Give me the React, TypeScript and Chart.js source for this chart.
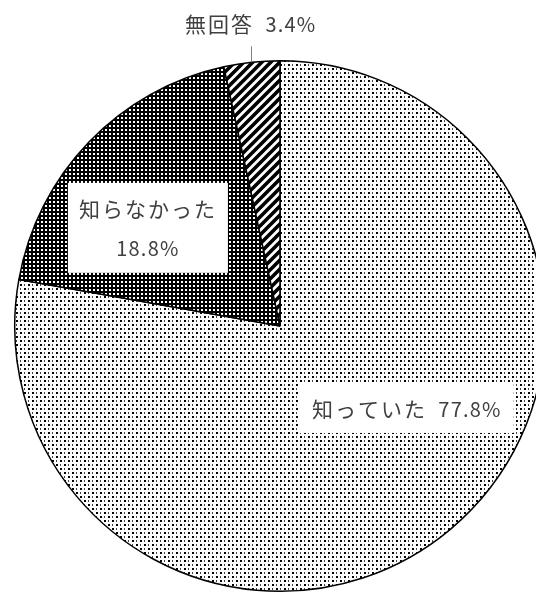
import React, { useEffect, useRef } from "react";
import { Chart, registerables } from "chart.js";

Chart.register(...registerables);

const categories = ["知っていた", "知らなかった", "無回答"];
const values = [77.8, 18.8, 3.4];
const valueLabels = ["77.8%", "18.8%", "3.4%"];

const TEXT_COLOR = "#404040";
const FONT = '"Noto Sans CJK JP", "Noto Sans", sans-serif';
const JP_FONT = `21px ${FONT}`;
const NUM_FONT = `20px ${FONT}`;

function makeTile(w: number, h: number, draw: (c: CanvasRenderingContext2D) => void) {
  const cv = document.createElement("canvas");
  cv.width = w;
  cv.height = h;
  const c = cv.getContext("2d")!;
  draw(c);
  return cv;
}

function makePatterns(ctx: CanvasRenderingContext2D) {
  const dots = makeTile(8, 8, (c) => {
    c.fillStyle = "#fff";
    c.fillRect(0, 0, 8, 8);
    c.fillStyle = "#000";
    c.fillRect(0, 0, 2, 2);
    c.fillRect(4, 4, 2, 2);
    c.fillStyle = "#444";
    c.fillRect(4, 0, 1, 2);
    c.fillRect(0, 4, 1, 2);
  });
  const dark = makeTile(4, 4, (c) => {
    c.fillStyle = "#000";
    c.fillRect(0, 0, 4, 4);
    c.fillStyle = "#fff";
    c.fillRect(1, 1, 2, 2);
  });
  const stripes = makeTile(9, 9, (c) => {
    c.fillStyle = "#fff";
    c.fillRect(0, 0, 9, 9);
    c.strokeStyle = "#000";
    c.lineWidth = 3.6;
    c.beginPath();
    c.moveTo(-1, 10);
    c.lineTo(10, -1);
    c.moveTo(-5, 5);
    c.lineTo(5, -5);
    c.moveTo(4, 14);
    c.lineTo(14, 4);
    c.stroke();
  });
  return [
    ctx.createPattern(dots, "repeat")!,
    ctx.createPattern(dark, "repeat")!,
    ctx.createPattern(stripes, "repeat")!,
  ];
}

type Run = { text: string; font: string; spacing: number };

function drawRuns(ctx: CanvasRenderingContext2D, runs: Run[], cx: number, y: number) {
  const anyCtx = ctx as any;
  const widths = runs.map((r) => {
    ctx.font = r.font;
    anyCtx.letterSpacing = `${r.spacing}px`;
    return ctx.measureText(r.text).width;
  });
  const total = widths.reduce((a, b) => a + b, 0);
  let x = cx - total / 2;
  ctx.textAlign = "left";
  runs.forEach((r, i) => {
    ctx.font = r.font;
    anyCtx.letterSpacing = `${r.spacing}px`;
    ctx.fillText(r.text, x, y);
    x += widths[i];
  });
  anyCtx.letterSpacing = "0px";
}

const jp = (t: string): Run => ({ text: t, font: JP_FONT, spacing: 2 });
const num = (t: string): Run => ({ text: t, font: NUM_FONT, spacing: 1.2 });

const labelPlugin = {
  id: "pieLabels",
  afterDatasetsDraw(chart: any) {
    const ctx: CanvasRenderingContext2D = chart.ctx;
    const meta = chart.getDatasetMeta(0);
    const arcs = meta.data;
    if (!arcs.length) return;
    const a0 = arcs[0].getProps(["x", "y", "outerRadius"], true);
    const cx = a0.x, cy = a0.y, R = a0.outerRadius;
    ctx.save();
    ctx.textBaseline = "middle";

    // Label 0: 知っていた 77.8% (boxed, one line)
    {
      const x = cx + R * 0.478;
      const y = cy + R * 0.309;
      const w = 214, h = 50;
      ctx.fillStyle = "#fff";
      ctx.fillRect(x - w / 2, y - h / 2, w, h);
      ctx.fillStyle = TEXT_COLOR;
      drawRuns(ctx, [jp(categories[0]), num("  " + valueLabels[0])], x, y + 1);
    }
    // Label 1: 知らなかった / 18.8% (boxed, two lines)
    {
      const x = cx - R * 0.498;
      const y = cy - R * 0.370;
      const w = 160, h = 90;
      ctx.fillStyle = "#fff";
      ctx.fillRect(x - w / 2, y - h / 2, w, h);
      ctx.fillStyle = TEXT_COLOR;
      drawRuns(ctx, [jp(categories[1])], x, y - 19);
      drawRuns(ctx, [num(valueLabels[1])], x, y + 21);
    }
    // Label 2: 無回答 3.4% with leader line
    {
      const p = arcs[2].getProps(["startAngle", "endAngle"], true);
      const mid = (p.startAngle + p.endAngle) / 2;
      const ex = cx + Math.cos(mid) * R;
      const ey = cy + Math.sin(mid) * R;
      ctx.strokeStyle = "#808080";
      ctx.lineWidth = 1;
      ctx.beginPath();
      ctx.moveTo(Math.round(ex) - 0.5, ey);
      ctx.lineTo(Math.round(ex) - 0.5, ey - 16);
      ctx.stroke();
      ctx.fillStyle = TEXT_COLOR;
      drawRuns(ctx, [jp(categories[2]), num("  " + valueLabels[2])], ex - 1, ey - 38);
    }
    ctx.restore();
  },
};

export default function App() {
  const ref = useRef<HTMLCanvasElement | null>(null);
  useEffect(() => {
    document.body.style.margin = "0";
    document.body.style.overflow = "hidden";
    const canvas = ref.current!;
    const ctx = canvas.getContext("2d")!;
    const patterns = makePatterns(ctx);
    const chart = new Chart(canvas, {
      type: "pie",
      data: {
        labels: categories,
        datasets: [
          {
            data: values,
            backgroundColor: patterns as any,
            borderColor: "#000",
            borderWidth: 1.5,
          },
        ],
      },
      options: {
        responsive: false,
        animation: false,
        devicePixelRatio: 1,
        layout: { padding: { top: 60, bottom: 2, left: 14, right: 14 } },
        plugins: {
          legend: { display: false },
          tooltip: { enabled: false },
          title: { display: false },
        },
      },
      plugins: [labelPlugin],
    });
    return () => chart.destroy();
  }, []);
  return (
    <div
      style={{
        position: "fixed",
        left: 0,
        top: 0,
        width: 536,
        height: 594,
        overflow: "hidden",
        background: "#fff",
      }}
    >
      <canvas ref={ref} width={560} height={594} style={{ width: 560, height: 594, display: "block" }} />
    </div>
  );
}
